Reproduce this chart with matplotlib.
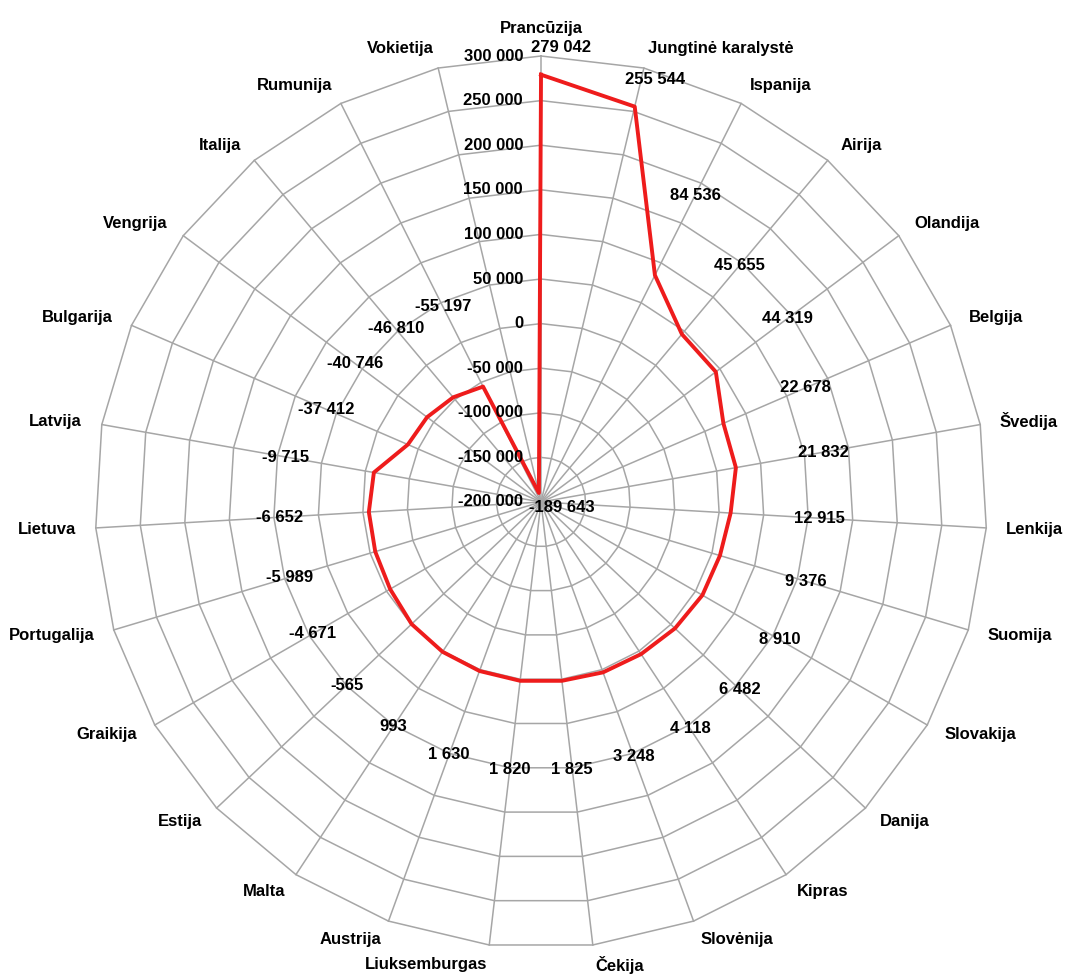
import numpy as np
import matplotlib
matplotlib.use("Agg")
import matplotlib.pyplot as plt

# salys ir reiksmes, pagal laikrodzio rodykle nuo virsaus
salys = ["Prancūzija", "Jungtinė karalystė", "Ispanija", "Airija", "Olandija",
         "Belgija", "Švedija", "Lenkija", "Suomija", "Slovakija", "Danija",
         "Kipras", "Slovėnija", "Čekija", "Liuksemburgas", "Austrija", "Malta",
         "Estija", "Graikija", "Portugalija", "Lietuva", "Latvija", "Bulgarija",
         "Vengrija", "Italija", "Rumunija", "Vokietija"]
reiksmes = [279042, 255544, 84536, 45655, 44319, 22678, 21832, 12915, 9376,
            8910, 6482, 4118, 3248, 1825, 1820, 1630, 993, -565, -4671, -5989,
            -6652, -9715, -37412, -40746, -46810, -55197, -189643]
asies_zymes = [-200000, -150000, -100000, -50000, 0, 50000, 100000, 150000,
               200000, 250000, 300000]

plt.rcParams['font.family'] = ['Liberation Sans', 'DejaVu Sans']
plt.rcParams['font.size'] = 12
plt.rcParams['font.weight'] = 'bold'


def skaicius(v):
    s = f"{abs(v):,}".replace(",", " ")
    return "-" + s if v < 0 else s


n = len(salys)
kampai = np.arange(n) * 2 * np.pi / n
rmin, rmax = asies_zymes[0], asies_zymes[-1]

fig = plt.figure(figsize=(10.65, 9.74), dpi=100)
ax = fig.add_axes([0.0892, 0.0267, 0.8376, 0.9158], projection='polar')
ax.set_theta_zero_location('N')
ax.set_theta_direction(-1)
ax.set_axis_off()

pilka = '#a6a6a6'
uzdari = np.append(kampai, kampai[0])

# tinklelis: daugiakampiai ziedai ir spinduliai
for lygis in asies_zymes[1:]:
    ax.plot(uzdari, [lygis] * (n + 1), color=pilka, lw=1.1, clip_on=False, zorder=1)
for k in kampai:
    ax.plot([k, k], [rmin, rmax], color=pilka, lw=1.1, clip_on=False, zorder=1)

# duomenu linija
ax.plot(uzdari, reiksmes + reiksmes[:1], color='#ee1c1c', lw=2.8, zorder=3,
        clip_on=False)
ax.set_ylim(rmin, rmax)

# asies zymes palei vertikalia asi
for lygis in asies_zymes:
    ax.annotate(skaicius(lygis), xy=(0, lygis), xytext=(-18, 0),
                textcoords='offset pixels', ha='right', va='center', zorder=4)

# salies pavadinimai uz isorinio ziedo
for k, pav in zip(kampai, salys):
    sx, sy = np.sin(k), np.cos(k)
    if abs(sx) < 0.05:
        ha = 'center'
    else:
        ha = 'left' if sx > 0 else 'right'
    va = 'bottom' if sy > 0.99 else 'center'
    ax.annotate(pav, xy=(k, rmax), xytext=(20 * sx, 20 * sy),
                textcoords='offset pixels', ha=ha, va=va, annotation_clip=False)

# reiksmiu uzrasai
for k, v in zip(kampai, reiksmes):
    if v > 200000:
        ax.annotate(skaicius(v), xy=(k, v), xytext=(20, 27),
                    textcoords='offset pixels', ha='center', va='center', zorder=5)
    elif v < -150000:
        ax.annotate(skaicius(v), xy=(k, v), xytext=(23, -14),
                    textcoords='offset pixels', ha='center', va='center', zorder=5)
    else:
        ax.text(k, v + 100000, skaicius(v), ha='center', va='center', zorder=5)

fig.savefig("out.png", dpi=100, facecolor='white')
